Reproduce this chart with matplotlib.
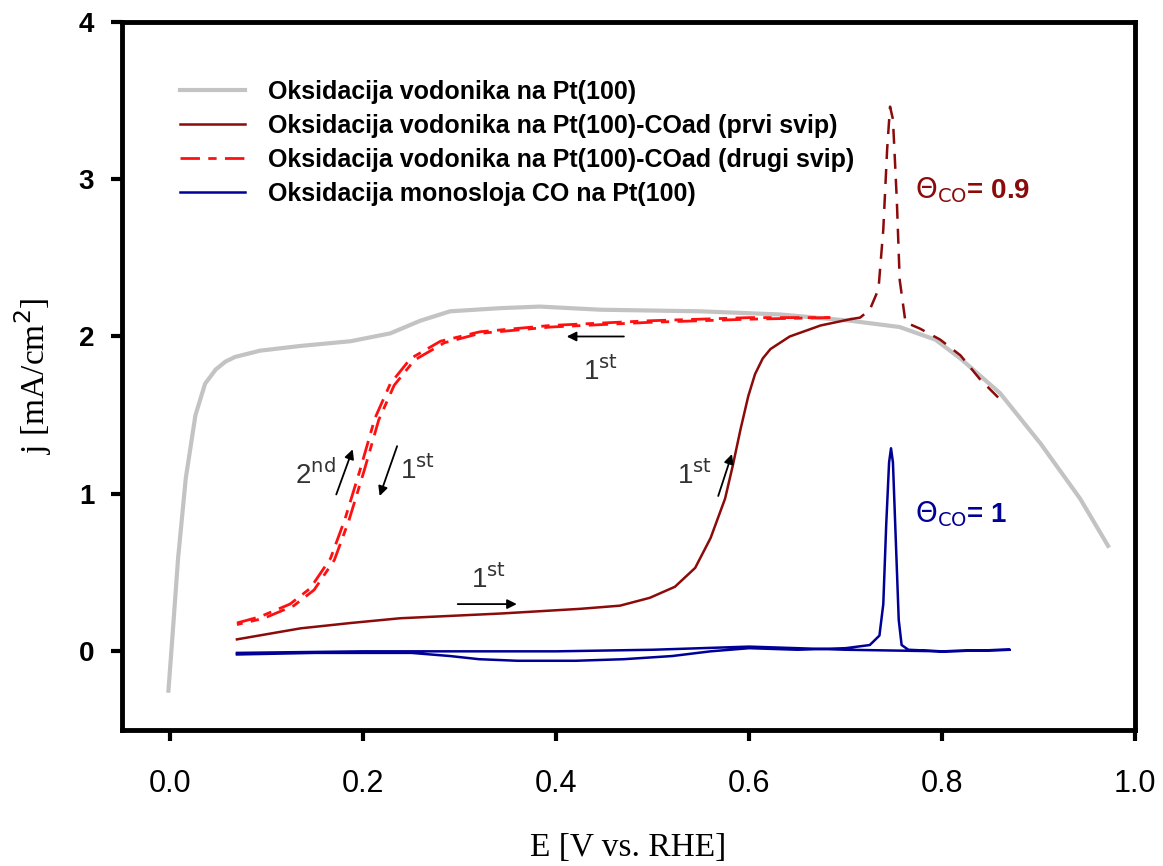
import matplotlib
matplotlib.use('Agg')
import matplotlib.pyplot as plt
import numpy as np

# H2 oxidation on clean Pt(100)
E_pt = [-0.002, 0.002, 0.008, 0.016, 0.026, 0.036, 0.047, 0.057, 0.067, 0.093, 0.135, 0.187,
        0.228, 0.259, 0.29, 0.342, 0.383, 0.446, 0.549, 0.632, 0.705, 0.756, 0.793, 0.819,
        0.86, 0.902, 0.943, 0.972]
j_pt = [-0.25, 0.08, 0.59, 1.10, 1.50, 1.70, 1.79, 1.84, 1.87, 1.91, 1.94, 1.97,
        2.02, 2.10, 2.16, 2.18, 2.19, 2.17, 2.16, 2.14, 2.10, 2.06, 1.98, 1.86,
        1.64, 1.32, 0.97, 0.67]

# H2 oxidation on Pt(100)-COad, first sweep
E_co1 = [0.069, 0.135, 0.187, 0.238, 0.342, 0.425, 0.466, 0.497, 0.523, 0.544, 0.56, 0.575,
         0.583, 0.591, 0.599, 0.606, 0.614, 0.622, 0.642, 0.674, 0.705]
j_co1 = [0.076, 0.146, 0.18, 0.21, 0.24, 0.27, 0.29, 0.34, 0.41, 0.53, 0.72, 0.97,
         1.18, 1.41, 1.62, 1.76, 1.86, 1.92, 2.00, 2.07, 2.11]

# first sweep continued (CO stripping peak), dashed
E_co1b = [0.705, 0.715, 0.725, 0.734, 0.739, 0.743, 0.746, 0.749, 0.753, 0.756, 0.762,
          0.777, 0.798, 0.819, 0.839, 0.865]
j_co1b = [2.11, 2.12, 2.17, 2.30, 2.68, 3.19, 3.46, 3.38, 2.87, 2.36, 2.09,
          2.05, 1.98, 1.88, 1.73, 1.57]

# H2 oxidation on Pt(100)-COad, second sweep (forward and reverse)
E_co2f = [0.069, 0.093, 0.124, 0.145, 0.166, 0.181, 0.197, 0.212, 0.228, 0.249, 0.28,
          0.321, 0.394, 0.497, 0.601, 0.684]
j_co2f = [0.18, 0.22, 0.30, 0.40, 0.59, 0.84, 1.16, 1.48, 1.70, 1.86, 1.97,
          2.03, 2.07, 2.10, 2.12, 2.12]
E_co2r = [0.684, 0.601, 0.497, 0.394, 0.321, 0.284, 0.253, 0.232, 0.216, 0.201, 0.185,
          0.170, 0.149, 0.128, 0.097, 0.069]
j_co2r = [2.12, 2.11, 2.09, 2.06, 2.02, 1.96, 1.85, 1.69, 1.47, 1.15, 0.83,
          0.58, 0.39, 0.29, 0.21, 0.17]

# CO monolayer oxidation on Pt(100)
E_ml = [0.069, 0.15, 0.25, 0.29, 0.32, 0.36, 0.42, 0.47, 0.52, 0.56, 0.60, 0.65, 0.70,
        0.725, 0.735, 0.739, 0.742, 0.745, 0.747, 0.749, 0.752, 0.755, 0.758, 0.765,
        0.80, 0.87, 0.80, 0.70, 0.60, 0.50, 0.40, 0.30, 0.20, 0.069]
j_ml = [-0.02, -0.01, -0.01, -0.03, -0.05, -0.06, -0.06, -0.05, -0.03, 0.0, 0.02, 0.01, 0.02,
        0.04, 0.10, 0.30, 0.80, 1.20, 1.29, 1.20, 0.70, 0.20, 0.04, 0.01,
        0.0, 0.01, 0.0, 0.01, 0.03, 0.01, 0.0, 0.0, 0.0, -0.01]

labels = ['Oksidacija vodonika na Pt(100)',
          'Oksidacija vodonika na Pt(100)-COad (prvi svip)',
          'Oksidacija vodonika na Pt(100)-COad (drugi svip)',
          'Oksidacija monosloja CO na Pt(100)']
xticks = [0.0, 0.2, 0.4, 0.6, 0.8, 1.0]
xticklabels = ['0.0', '0.2', '0.4', '0.6', '0.8', '1.0']
yticks = [0, 1, 2, 3, 4]

gray = '#c3c3c3'
darkred = '#8b0a0a'
red = '#ff1010'
navy = '#000096'

fig = plt.figure(figsize=(11.63, 8.66), dpi=100)
ax = fig.add_axes([0.105, 0.157, 0.871, 0.818])

ax.plot(E_pt, j_pt, color=gray, lw=3, label=labels[0])
ax.plot(E_co1, j_co1, color=darkred, lw=1.8, label=labels[1])
ax.plot(E_co1b, j_co1b, color=darkred, lw=1.8, ls=(0, (6, 4)))
ax.plot(E_co2f, j_co2f, color=red, lw=2, ls=(0, (7, 3, 3, 3)), label=labels[2])
ax.plot(E_co2r, j_co2r, color=red, lw=2, ls=(0, (7, 3, 3, 3)))
ax.plot(E_ml, j_ml, color=navy, lw=1.8, label=labels[3])

ax.set_xlim(-0.05, 1.0)
ax.set_ylim(-0.5, 4)
ax.set_xticks(xticks)
ax.set_xticklabels(xticklabels, family='Liberation Sans', fontsize=22)
ax.set_yticks(yticks)
ax.set_yticklabels([str(v) for v in yticks], family='Liberation Sans', fontsize=20,
                   fontweight='bold')
for s in ax.spines.values():
    s.set_linewidth(3.5)
ax.tick_params(direction='out', length=8, width=3, pad=12)
ax.tick_params(axis='x', pad=20)

ax.set_xlabel('E [V vs. RHE]', family='Liberation Serif', fontsize=24, labelpad=24)
ax.set_ylabel('j [mA/cm$^2$]', family='Liberation Serif', fontsize=24, labelpad=18)

leg = ax.legend(loc='upper left', bbox_to_anchor=(0.035, 0.95), frameon=False,
                handlelength=2.6, handletextpad=0.9, labelspacing=0.4,
                prop={'family': 'Liberation Sans', 'weight': 'bold', 'size': 18})

ax.text(0.772, 2.93, r'$\Theta_{\mathrm{CO}}$= 0.9', color=darkred, fontsize=20,
        fontweight='bold', family='Liberation Sans', va='center')
ax.text(0.772, 0.87, r'$\Theta_{\mathrm{CO}}$= 1', color=navy, fontsize=20,
        fontweight='bold', family='Liberation Sans', va='center')

txt = '#333333'
ap = dict(arrowstyle='-|>', color='black', lw=1.3, mutation_scale=14)
fs = 20
# reverse sweep on plateau
ax.annotate('', xy=(0.408, 2.0), xytext=(0.473, 2.0), arrowprops=ap)
ax.text(0.446, 1.78, r'1$^{\mathrm{st}}$', color=txt, fontsize=fs, ha='center', va='center',
        family='Liberation Sans')
# forward first sweep
ax.annotate('', xy=(0.362, 0.30), xytext=(0.295, 0.30), arrowprops=ap)
ax.text(0.330, 0.46, r'1$^{\mathrm{st}}$', color=txt, fontsize=fs, ha='center', va='center',
        family='Liberation Sans')
# steep part, second sweep up / first sweep down
ax.annotate('', xy=(0.190, 1.30), xytext=(0.171, 0.98), arrowprops=ap)
ax.text(0.150, 1.12, r'2$^{\mathrm{nd}}$', color=txt, fontsize=fs, ha='center', va='center',
        family='Liberation Sans')
ax.annotate('', xy=(0.216, 0.97), xytext=(0.236, 1.32), arrowprops=ap)
ax.text(0.256, 1.15, r'1$^{\mathrm{st}}$', color=txt, fontsize=fs, ha='center', va='center',
        family='Liberation Sans')
# first sweep rising edge
ax.annotate('', xy=(0.583, 1.27), xytext=(0.567, 0.97), arrowprops=ap)
ax.text(0.543, 1.12, r'1$^{\mathrm{st}}$', color=txt, fontsize=fs, ha='center', va='center',
        family='Liberation Sans')

fig.savefig('out.png', dpi=100)
